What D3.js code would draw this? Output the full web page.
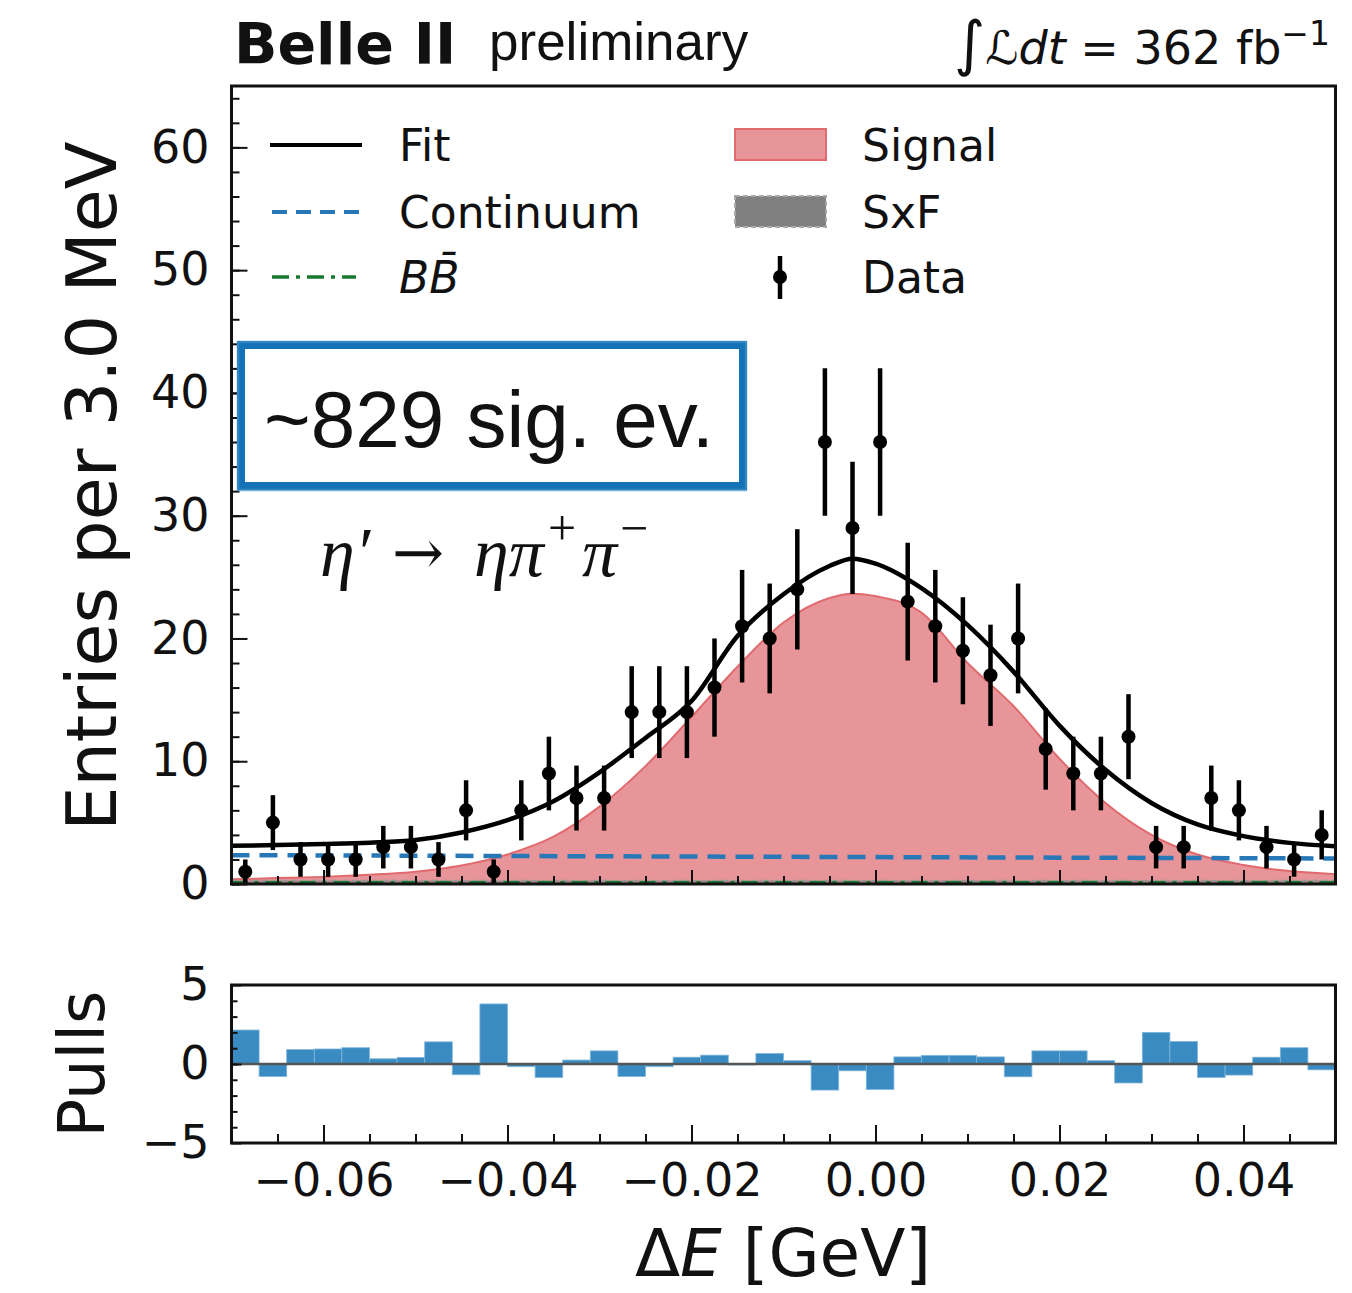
<!DOCTYPE html>
<html>
<head>
<meta charset="utf-8">
<script src="https://cdn.jsdelivr.net/npm/d3@7"></script>
<style>
  body { margin: 0; background: #fff; }
  text { font-family: "DejaVu Sans", sans-serif; fill: #111; }
</style>
</head>
<body>
<svg id="chart" width="1352" height="1293"></svg>
<script>
// bins: 40 bins of 3 MeV between -0.07 and 0.05 GeV
var binLow = -0.07, binWidth = 0.003;
var dataCounts = [1, 5, 2, 2, 2, 3, 3, 2, 6, 1, 6, 9, 7, 7, 14, 14, 14, 16, 21, 20,
                  24, 36, 29, 36, 23, 21, 19, 17, 20, 11, 9, 9, 12, 3, 3, 7, 6, 3, 2, 4];
var pulls = [2.15, -0.79, 0.91, 0.95, 1.03, 0.33, 0.41, 1.40, -0.68, 3.80,
             -0.17, -0.85, 0.25, 0.83, -0.79, -0.17, 0.43, 0.56, -0.06, 0.66,
             0.21, -1.65, -0.43, -1.61, 0.45, 0.54, 0.54, 0.45, -0.81, 0.83,
             0.83, 0.21, -1.20, 2.00, 1.43, -0.85, -0.70, 0.43, 1.03, -0.37];

// fit components
var curveX  = [-0.07, -0.065, -0.06, -0.055, -0.05, -0.045, -0.04, -0.035, -0.03, -0.025,
               -0.02, -0.015, -0.01, -0.005, -0.0025, 0.0, 0.005, 0.01, 0.015, 0.02,
               0.025, 0.03, 0.035, 0.04, 0.045, 0.05];
var fitY    = [3.11, 3.17, 3.25, 3.36, 3.58, 4.2, 5.2, 6.75, 9.1, 11.9,
               14.9, 20.2, 23.6, 25.9, 26.5, 26.1, 24.1, 21.1, 17.3, 12.9,
               9.3, 6.6, 4.85, 3.9, 3.35, 3.08];
var signalY = [0.38, 0.48, 0.58, 0.75, 1.0, 1.5, 2.4, 3.85, 6.3, 9.6,
               13.6, 17.7, 21.3, 23.3, 23.65, 23.45, 22.1, 18.0, 14.5, 10.2,
               6.6, 4.0, 2.4, 1.55, 1.05, 0.8];
var contX = [-0.07, 0.05], contY = [2.35, 2.08];
var sxfX = [-0.07, 0.05], sxfY = [0.28, 0.28];
var bbX = [-0.07, 0.05], bbY = [0.12, 0.12];

var xTicks = [-0.06, -0.04, -0.02, 0.00, 0.02, 0.04];
var yTicks = [0, 10, 20, 30, 40, 50, 60];
var pullTicks = [-5, 0, 5];

var svg = d3.select("#chart");
var L = 231.5, R = 1335.5, T = 86, B = 884;   // main panel
var PT = 985, PB = 1143;                         // pull panel

var x = d3.scaleLinear().domain([-0.07, 0.05]).range([L, R]);
var y = d3.scaleLinear().domain([0, 65]).range([B, T]);
var yp = d3.scaleLinear().domain([-5, 5]).range([PB, PT]);

svg.append("defs").append("clipPath").attr("id", "clipMain")
  .append("rect").attr("x", L).attr("y", T).attr("width", R - L).attr("height", B - T);

var plot = svg.append("g").attr("clip-path", "url(#clipMain)");
var pts = function(xs, ys) { return xs.map(function(d, i) { return [d, ys[i]]; }); };

// signal
plot.append("path")
  .attr("d", d3.area().curve(d3.curveMonotoneX)
    .x(function(d) { return x(d[0]); }).y0(y(0)).y1(function(d) { return y(d[1]); })(pts(curveX, signalY)))
  .attr("fill", "#e8959a").attr("stroke", "#e06a6e").attr("stroke-width", 2);

// SxF
plot.append("path")
  .attr("d", d3.area().x(function(d) { return x(d[0]); }).y0(y(0)).y1(function(d) { return y(d[1]); })(pts(sxfX, sxfY)))
  .attr("fill", "#808080").attr("fill-opacity", 0.6)
  .attr("stroke", "#999").attr("stroke-dasharray", "6,4").attr("stroke-width", 1.5);

var line = d3.line().x(function(d) { return x(d[0]); }).y(function(d) { return y(d[1]); });

// BB
plot.append("path").attr("d", line(pts(bbX, bbY)))
  .attr("fill", "none").attr("stroke", "#187a30").attr("stroke-width", 3)
  .attr("stroke-dasharray", "16,7,4,7");

// continuum
plot.append("path").attr("d", line(pts(contX, contY)))
  .attr("fill", "none").attr("stroke", "#2878b8").attr("stroke-width", 4.5)
  .attr("stroke-dasharray", "18,10");

// total fit
plot.append("path").attr("d", line.curve(d3.curveMonotoneX)(pts(curveX, fitY)))
  .attr("fill", "none").attr("stroke", "#000").attr("stroke-width", 4.5);

// data with sqrt(N) errors
var centers = dataCounts.map(function(d, i) { return binLow + binWidth * (i + 0.5); });
var dg = plot.append("g");
dg.selectAll("line").data(dataCounts).enter().append("line")
  .attr("x1", function(d, i) { return x(centers[i]); })
  .attr("x2", function(d, i) { return x(centers[i]); })
  .attr("y1", function(d) { return y(d - Math.sqrt(d)); })
  .attr("y2", function(d) { return y(d + Math.sqrt(d)); })
  .attr("stroke", "#000").attr("stroke-width", 4.5);
dg.selectAll("circle").data(dataCounts).enter().append("circle")
  .attr("cx", function(d, i) { return x(centers[i]); })
  .attr("cy", function(d) { return y(d); })
  .attr("r", 7).attr("fill", "#000");

// axes for the main panel (ticks pointing in)
function styleAxis(g) {
  g.select(".domain").remove();
  g.selectAll(".tick line").attr("stroke", "#111").attr("stroke-width", 2);
  g.selectAll(".tick text").style("font-size", "46px").attr("fill", "#222");
}
svg.append("g").attr("transform", "translate(0," + B + ")")
  .call(d3.axisBottom(x).tickValues(d3.range(-0.065, 0.0501, 0.005)).tickSize(-8).tickFormat(""))
  .call(styleAxis);
svg.append("g").attr("transform", "translate(0," + B + ")")
  .call(d3.axisBottom(x).tickValues(xTicks).tickSize(-14).tickFormat(""))
  .call(styleAxis);
svg.append("g").attr("transform", "translate(" + L + ",0)")
  .call(d3.axisLeft(y).tickValues(d3.range(0, 65, 2)).tickSize(-8).tickFormat(""))
  .call(styleAxis);
svg.append("g").attr("transform", "translate(" + L + ",0)")
  .call(d3.axisLeft(y).tickValues(yTicks).tickSize(-16).tickPadding(22).tickFormat(d3.format("d")))
  .call(styleAxis);
svg.append("rect").attr("x", L).attr("y", T).attr("width", R - L).attr("height", B - T)
  .attr("fill", "none").attr("stroke", "#111").attr("stroke-width", 3);

// pulls panel
svg.append("g").selectAll("rect").data(pulls).enter().append("rect")
  .attr("x", function(d, i) { return x(binLow + binWidth * i); })
  .attr("width", x(binWidth) - x(0))
  .attr("y", function(d) { return yp(Math.max(d, 0)); })
  .attr("height", function(d) { return Math.abs(yp(d) - yp(0)); })
  .attr("fill", "#3a8bc1").attr("stroke", "#7fb5da").attr("stroke-width", 0.8);
svg.append("line").attr("x1", L).attr("x2", R).attr("y1", yp(0)).attr("y2", yp(0))
  .attr("stroke", "#555").attr("stroke-width", 2.5);

svg.append("g").attr("transform", "translate(0," + PB + ")")
  .call(d3.axisBottom(x).tickValues(d3.range(-0.065, 0.0501, 0.005)).tickSize(-9).tickFormat(""))
  .call(styleAxis);
svg.append("g").attr("transform", "translate(0," + PB + ")")
  .call(d3.axisBottom(x).tickValues(xTicks).tickSize(-18).tickPadding(20)
    .tickFormat(function(d) { return d3.format(".2f")(d).replace("-", "\u2212"); }))
  .call(styleAxis);
svg.append("g").attr("transform", "translate(" + L + ",0)")
  .call(d3.axisLeft(yp).tickValues(d3.range(-4, 5, 1)).tickSize(-6).tickFormat(""))
  .call(styleAxis);
svg.append("g").attr("transform", "translate(" + L + ",0)")
  .call(d3.axisLeft(yp).tickValues(pullTicks).tickSize(-10).tickPadding(22)
    .tickFormat(function(d) { return String(d).replace("-", "\u2212"); }))
  .call(styleAxis);
svg.append("rect").attr("x", L).attr("y", PT).attr("width", R - L).attr("height", PB - PT)
  .attr("fill", "none").attr("stroke", "#111").attr("stroke-width", 3);

// axis titles
svg.append("text").attr("transform", "translate(116,486) rotate(-90)")
  .attr("text-anchor", "middle").style("font-size", "70px").attr("fill", "#222")
  .text("Entries per 3.0 MeV");
svg.append("text").attr("transform", "translate(104," + (yp(0)) + ") rotate(-90)")
  .attr("text-anchor", "middle").style("font-size", "64px").attr("fill", "#222")
  .text("Pulls");
var xt = svg.append("text").attr("x", 783).attr("y", 1276).attr("text-anchor", "middle")
  .style("font-size", "66px").attr("fill", "#222");
xt.append("tspan").text("\u0394");
xt.append("tspan").style("font-style", "italic").text("E");
xt.append("tspan").text(" [GeV]");

// header
svg.append("text").attr("x", 234).attr("y", 64).style("font-size", "57px")
  .style("font-weight", "bold").attr("fill", "#222").text("Belle II");
svg.append("text").attr("x", 489).attr("y", 60).style("font-size", "53px")
  .style("font-family", "'Liberation Sans', Arial, sans-serif").text("preliminary");
var lum = svg.append("text").attr("x", 1330).attr("y", 64).attr("text-anchor", "end")
  .style("font-size", "46px").attr("fill", "#222");
lum.append("tspan").style("font-size", "60px").text("\u222B");
lum.append("tspan").style("font-style", "italic").text("\u2112dt");
lum.append("tspan").text(" = 362 fb");
lum.append("tspan").attr("dy", -19).style("font-size", "33px").text("\u22121");

// legend
var lg = svg.append("g").style("font-size", "44px");
lg.append("line").attr("x1", 270).attr("x2", 362).attr("y1", 145).attr("y2", 145)
  .attr("stroke", "#000").attr("stroke-width", 4);
lg.append("line").attr("x1", 272).attr("x2", 362).attr("y1", 212).attr("y2", 212)
  .attr("stroke", "#2878b8").attr("stroke-width", 4).attr("stroke-dasharray", "15,9");
lg.append("line").attr("x1", 272).attr("x2", 356).attr("y1", 277).attr("y2", 277)
  .attr("stroke", "#187a30").attr("stroke-width", 3.5).attr("stroke-dasharray", "17,7,4,7");
lg.append("text").attr("x", 399).attr("y", 161).text("Fit");
lg.append("text").attr("x", 399).attr("y", 228).text("Continuum");
lg.append("text").attr("x", 399).attr("y", 293).style("font-style", "italic").text("BB\u0304");
lg.append("rect").attr("x", 735).attr("y", 129).attr("width", 91).attr("height", 31)
  .attr("fill", "#e8959a").attr("stroke", "#e06a6e").attr("stroke-width", 2);
lg.append("rect").attr("x", 735).attr("y", 196).attr("width", 91).attr("height", 31)
  .attr("fill", "#808080").attr("stroke", "#a8a8a8").attr("stroke-width", 2).attr("stroke-dasharray", "5,3");
lg.append("line").attr("x1", 780).attr("x2", 780).attr("y1", 256).attr("y2", 299)
  .attr("stroke", "#000").attr("stroke-width", 4.5);
lg.append("circle").attr("cx", 780).attr("cy", 277).attr("r", 7).attr("fill", "#000");
lg.append("text").attr("x", 862).attr("y", 161).text("Signal");
lg.append("text").attr("x", 862).attr("y", 228).text("SxF");
lg.append("text").attr("x", 862).attr("y", 293).text("Data");

// annotation box
var ann = svg.append("g");
ann.append("rect").attr("x", 241).attr("y", 345).attr("width", 502).attr("height", 141)
  .attr("fill", "#fff").attr("stroke", "#1672b6").attr("stroke-width", 8);
ann.append("rect").attr("x", 238).attr("y", 342).attr("width", 508).attr("height", 148)
  .attr("fill", "none").attr("stroke", "#3d8fcb").attr("stroke-width", 2.5).attr("stroke-opacity", 0.7);
ann.append("text").attr("x", 264).attr("y", 447)
  .style("font-family", "'Liberation Sans', Arial, sans-serif").style("font-size", "80px")
  .attr("fill", "#000").text("~829 sig. ev.");

// decay label, pieces placed one after another
var serif = "'Liberation Serif', 'Times New Roman', serif";
var dec = svg.append("g").attr("fill", "#000");
dec.append("text").attr("x", 320).attr("y", 576).style("font-family", serif)
  .style("font-size", "70px").style("font-style", "italic").text("\u03B7\u2032");
dec.append("text").attr("x", 392).attr("y", 574).style("font-family", "'DejaVu Serif', serif")
  .style("font-size", "62px").text("\u2192");
dec.append("text").attr("x", 474).attr("y", 576).style("font-family", serif)
  .style("font-size", "70px").style("font-style", "italic").text("\u03B7\u03C0");
dec.append("text").attr("x", 548).attr("y", 545).style("font-family", serif)
  .style("font-size", "50px").text("+");
dec.append("text").attr("x", 582).attr("y", 576).style("font-family", serif)
  .style("font-size", "70px").style("font-style", "italic").text("\u03C0");
dec.append("text").attr("x", 620).attr("y", 545).style("font-family", serif)
  .style("font-size", "50px").text("\u2212");
</script>
</body>
</html>
